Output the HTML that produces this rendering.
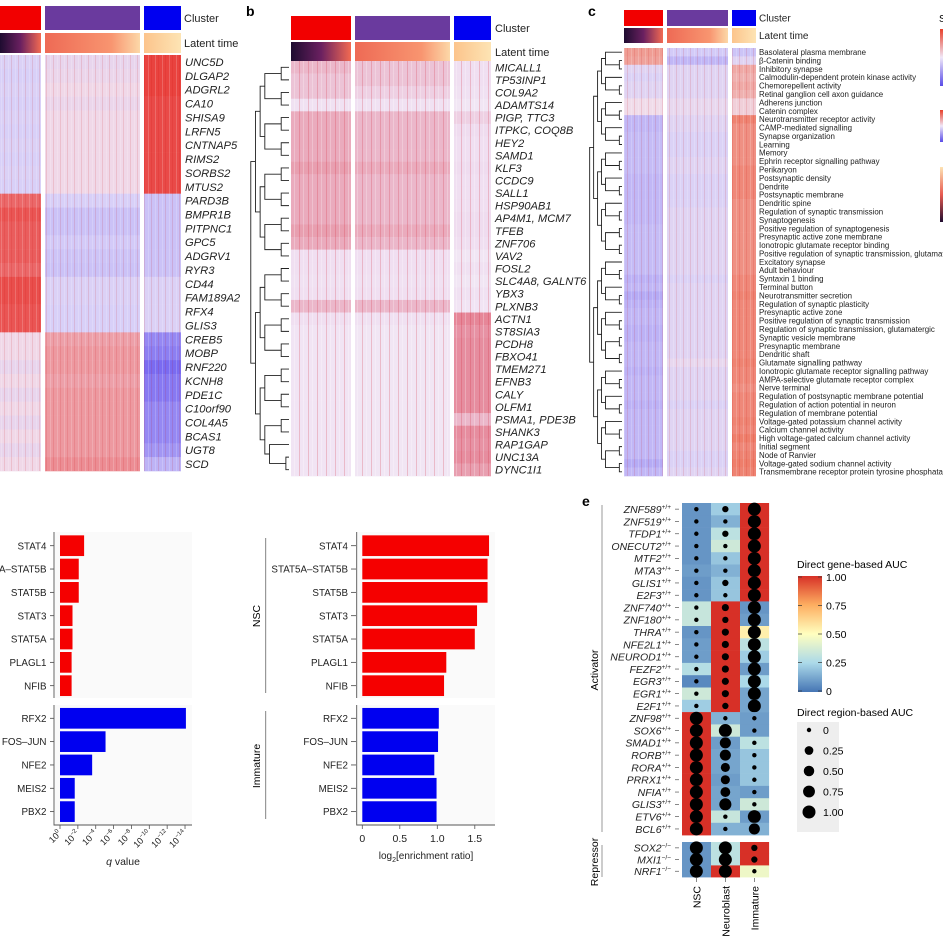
<!DOCTYPE html>
<html><head><meta charset="utf-8">
<style>
html,body{margin:0;padding:0;background:#fff;}
svg{display:block;font-family:"Liberation Sans",sans-serif;}
.it{font-style:italic;}
</style></head>
<body>
<svg id="fig" width="943" height="943" viewBox="0 0 943 943" xmlns="http://www.w3.org/2000/svg">
<defs>
<linearGradient id="lt1" x1="0" x2="1"><stop offset="0" stop-color="#1e0c30"/><stop offset="0.5" stop-color="#6a2060"/><stop offset="1" stop-color="#f26a52"/></linearGradient>
<linearGradient id="lt2" x1="0" x2="1"><stop offset="0" stop-color="#ee6a55"/><stop offset="0.7" stop-color="#f89570"/><stop offset="1" stop-color="#fcd8a8"/></linearGradient>
<linearGradient id="lt3" x1="0" x2="1"><stop offset="0" stop-color="#fcc48c"/><stop offset="1" stop-color="#fde4b4"/></linearGradient>
<linearGradient id="cbar" x1="0" y1="0" x2="0" y2="1"><stop offset="0" stop-color="#d73027"/><stop offset="0.25" stop-color="#fdae61"/><stop offset="0.5" stop-color="#ffffbf"/><stop offset="0.75" stop-color="#abd9e9"/><stop offset="1" stop-color="#4575b4"/></linearGradient>
<linearGradient id="rb" x1="0" y1="0" x2="0" y2="1"><stop offset="0" stop-color="#e8402a"/><stop offset="0.5" stop-color="#f0e8f8"/><stop offset="1" stop-color="#5a4ce8"/></linearGradient>
<linearGradient id="lg" x1="0" y1="0" x2="0" y2="1"><stop offset="0" stop-color="#fde4b4"/><stop offset="0.5" stop-color="#e85a50"/><stop offset="1" stop-color="#200c30"/></linearGradient>
<pattern id="stripes" width="7" height="4" patternUnits="userSpaceOnUse"><rect x="1" width="1" height="4" fill="#fff" opacity="0.18"/><rect x="4" width="1" height="4" fill="#c00" opacity="0.12"/></pattern>
<pattern id="stripesB" width="9" height="5" patternUnits="userSpaceOnUse"><rect x="2" width="1" height="5" fill="#d02030" opacity="0.22"/><rect x="6" width="1" height="5" fill="#fff" opacity="0.25"/></pattern>
</defs>
<g id="root"></g>
</svg>
<script>
// ---------- Panel a data ----------
const aGenes=["UNC5D","DLGAP2","ADGRL2","CA10","SHISA9","LRFN5","CNTNAP5","RIMS2","SORBS2","MTUS2","PARD3B","BMPR1B","PITPNC1","GPC5","ADGRV1","RYR3","CD44","FAM189A2","RFX4","GLIS3","CREB5","MOBP","RNF220","KCNH8","PDE1C","C10orf90","COL4A5","BCAS1","UGT8","SCD"];
const aRed=[0.42,0.4,0.42,0.4,0.42,0.4,0.42,0.4,0.42,0.4,0.85,0.9,0.88,0.88,0.88,0.85,0.92,0.92,0.9,0.9,0.55,0.55,0.5,0.55,0.5,0.55,0.5,0.55,0.5,0.55];
const aPur=[0.5,0.52,0.55,0.52,0.55,0.55,0.55,0.55,0.55,0.55,0.4,0.35,0.35,0.38,0.36,0.35,0.42,0.42,0.4,0.4,0.7,0.72,0.72,0.7,0.72,0.72,0.72,0.72,0.72,0.75];
const aBlu=[0.95,0.95,0.95,0.93,0.93,0.93,0.93,0.93,0.93,0.93,0.35,0.35,0.35,0.35,0.35,0.35,0.42,0.42,0.42,0.42,0.15,0.12,0.05,0.1,0.1,0.15,0.15,0.15,0.2,0.3];
// ---------- Panel b data ----------
const bGenes=["MICALL1","TP53INP1","COL9A2","ADAMTS14","PIGP, TTC3","ITPKC, COQ8B","HEY2","SAMD1","KLF3","CCDC9","SALL1","HSP90AB1","AP4M1, MCM7","TFEB","ZNF706","VAV2","FOSL2","SLC4A8, GALNT6","YBX3","PLXNB3","ACTN1","ST8SIA3","PCDH8","FBXO41","TMEM271","EFNB3","CALY","OLFM1","PSMA1, PDE3B","SHANK3","RAP1GAP","UNC13A","DYNC1I1"];
const bRed=[0.45,0.4,0.4,0.2,0.5,0.5,0.5,0.5,0.55,0.5,0.5,0.5,0.5,0.55,0.5,0.25,0.25,0.2,0.25,0.45,0.25,0.15,0.15,0.15,0.15,0.15,0.15,0.15,0.15,0.15,0.15,0.15,0.15];
const bPur=[0.4,0.4,0.35,0.2,0.45,0.45,0.45,0.45,0.5,0.45,0.45,0.45,0.45,0.5,0.45,0.25,0.25,0.2,0.25,0.45,0.2,0.12,0.12,0.12,0.12,0.12,0.12,0.12,0.12,0.12,0.12,0.12,0.12];
const bBlu=[0.25,0.25,0.2,0.12,0.35,0.3,0.25,0.25,0.3,0.25,0.25,0.25,0.3,0.3,0.25,0.12,0.2,0.12,0.2,0.15,0.65,0.6,0.62,0.62,0.62,0.62,0.62,0.62,0.45,0.62,0.6,0.62,0.55];
// ---------- Panel c data ----------
const cTerms=["Basolateral plasma membrane","β-Catenin binding","Inhibitory synapse","Calmodulin-dependent protein kinase activity","Chemorepellent activity","Retinal ganglion cell axon guidance","Adherens junction","Catenin complex","Neurotransmitter receptor activity","CAMP-mediated signalling","Synapse organization","Learning","Memory","Ephrin receptor signalling pathway","Perikaryon","Postsynaptic density","Dendrite","Postsynaptic membrane","Dendritic spine","Regulation of synaptic transmission","Synaptogenesis","Positive regulation of synaptogenesis","Presynaptic active zone membrane","Ionotropic glutamate receptor binding","Positive regulation of synaptic transmission, glutamatergic","Excitatory synapse","Adult behaviour","Syntaxin 1 binding","Terminal button","Neurotransmitter secretion","Regulation of synaptic plasticity","Presynaptic active zone","Positive regulation of synaptic transmission","Regulation of synaptic transmission, glutamatergic","Synaptic vesicle membrane","Presynaptic membrane","Dendritic shaft","Glutamate signalling pathway","Ionotropic glutamate receptor signalling pathway","AMPA-selective glutamate receptor complex","Nerve terminal","Regulation of postsynaptic membrane potential","Regulation of action potential in neuron","Regulation of membrane potential","Voltage-gated potassium channel activity","Calcium channel activity","High voltage-gated calcium channel activity","Initial segment","Node of Ranvier","Voltage-gated sodium channel activity","Transmembrane receptor protein tyrosine phosphatase activity"];
const cRed=[0.8,0.78,0.45,0.42,0.45,0.45,0.55,0.55,0.3,0.3,0.32,0.32,0.32,0.32,0.32,0.3,0.3,0.3,0.3,0.3,0.3,0.32,0.32,0.32,0.32,0.32,0.32,0.28,0.3,0.25,0.28,0.3,0.3,0.28,0.28,0.3,0.3,0.3,0.28,0.3,0.3,0.3,0.28,0.3,0.3,0.3,0.3,0.3,0.3,0.25,0.3];
const cPur=[0.38,0.3,0.45,0.45,0.45,0.45,0.5,0.5,0.45,0.45,0.42,0.42,0.42,0.45,0.45,0.42,0.42,0.42,0.42,0.45,0.45,0.45,0.45,0.45,0.45,0.45,0.45,0.42,0.45,0.45,0.45,0.45,0.45,0.45,0.45,0.45,0.45,0.5,0.45,0.45,0.45,0.45,0.42,0.45,0.45,0.45,0.45,0.45,0.42,0.42,0.45];
const cBlu=[0.35,0.45,0.75,0.72,0.75,0.72,0.6,0.6,0.9,0.85,0.85,0.85,0.85,0.85,0.88,0.88,0.88,0.88,0.85,0.85,0.85,0.85,0.85,0.85,0.85,0.85,0.85,0.88,0.88,0.9,0.88,0.88,0.88,0.88,0.88,0.88,0.88,0.9,0.88,0.88,0.85,0.88,0.88,0.88,0.9,0.88,0.92,0.88,0.9,0.92,0.9];
// ---------- Panel d data ----------
const dFactors=["STAT4","STAT5A–STAT5B","STAT5B","STAT3","STAT5A","PLAGL1","NFIB","RFX2","FOS–JUN","NFE2","MEIS2","PBX2"];
const dGroup=["NSC","NSC","NSC","NSC","NSC","NSC","NSC","Immature","Immature","Immature","Immature","Immature"];
const dNegLogQ=[2.7,2.1,2.1,1.4,1.4,1.3,1.3,14.1,5.1,3.6,1.65,1.65];
const dEnrich=[1.69,1.67,1.67,1.53,1.5,1.12,1.09,1.02,1.01,0.96,0.99,0.99];
const qTicks=[0,2,4,6,8,10,12,14];
const eTicks=[0,0.5,1.0,1.5];
// ---------- Panel e data ----------
const eCells=["NSC","Neuroblast","Immature"];
const eGenes=["ZNF589","ZNF519","TFDP1","ONECUT2","MTF2","MTA3","GLIS1","E2F3","ZNF740","ZNF180","THRA","NFE2L1","NEUROD1","FEZF2","EGR3","EGR1","E2F1","ZNF98","SOX6","SMAD1","RORB","RORA","PRRX1","NFIA","GLIS3","ETV6","BCL6","SOX2","MXI1","NRF1"];
const eType=["A","A","A","A","A","A","A","A","A","A","A","A","A","A","A","A","A","A","A","A","A","A","A","A","A","A","A","R","R","R"];
const eGeneAUC_NSC=[0.08,0.08,0.08,0.08,0.08,0.1,0.08,0.08,0.33,0.33,0.08,0.1,0.1,0.28,0.05,0.35,0.22,1,1,1,1,1,1,1,1,1,1,0.08,0.08,0.08];
const eGeneAUC_NB=[0.22,0.15,0.3,0.35,0.2,0.15,0.2,0.2,1,1,1,1,1,1,1,1,1,0.15,0.35,0.1,0.12,0.12,0.1,0.12,0.12,0.33,0.15,0.3,0.3,1];
const eGeneAUC_Im=[1,1,1,1,1,1,1,1,0.08,0.1,0.55,0.3,0.22,0.1,0.25,0.12,0.12,0.1,0.1,0.3,0.2,0.2,0.2,0.1,0.35,0.1,0.15,1,1,0.45];
const eRegAUC_NSC=[0,0,0,0,0,0,0,0,0,0,0,0,0,0,0,0,0,1,1,1,1,1,1,1,1,1,1,1,1,1];
const eRegAUC_NB=[0.05,0,0.05,0,0,0,0.05,0,0.1,0.05,0.1,0.1,0.1,0.1,0.1,0.1,0.05,0,1,0.6,0.6,0.3,0.3,0.4,0.8,0,0,1,1,1];
const eRegAUC_Im=[1,1,1,1,1,1,1,1,1,1,1,1,1,1,1,1,1,0,0,0,0,0,0,0,0,1,0.6,0.05,0.05,0];
const sizeLegend=[0,0.25,0.5,0.75,1.0];
const colorLegend=[1.0,0.75,0.5,0.25,0];

const NS="http://www.w3.org/2000/svg";
const root=document.getElementById('root');
function mk(tag,attrs,parent,text){const e=document.createElementNS(NS,tag);for(const k in attrs)e.setAttribute(k,attrs[k]);if(text!==undefined)e.textContent=text;(parent||root).appendChild(e);return e;}
function lerp(a,b,t){return a+(b-a)*t;}
function hex(c){return [parseInt(c.substr(1,2),16),parseInt(c.substr(3,2),16),parseInt(c.substr(5,2),16)];}
function scale(stops){return v=>{v=Math.max(0,Math.min(1,v));for(let i=0;i<stops.length-1;i++){if(v<=stops[i+1][0]){const t=(v-stops[i][0])/(stops[i+1][0]-stops[i][0]);const A=hex(stops[i][1]),B=hex(stops[i+1][1]);return `rgb(${Math.round(lerp(A[0],B[0],t))},${Math.round(lerp(A[1],B[1],t))},${Math.round(lerp(A[2],B[2],t))})`;}}return stops[stops.length-1][1];};}
const abcScale=scale([[0,"#6c5cf0"],[0.4,"#d8d0f8"],[0.55,"#f0d8e8"],[1,"#e8302a"]]);
const cScale=scale([[0,"#7a6cf0"],[0.4,"#d8d0f8"],[0.55,"#f0dcea"],[1,"#ee6a50"]]);
const bScale=scale([[0,"#f2ecf8"],[0.3,"#efdcef"],[1,"#dc3040"]]);
const eScale=scale([[0,"#4575b4"],[0.25,"#abd9e9"],[0.5,"#ffffbf"],[0.75,"#fdae61"],[1,"#d73027"]]);

function header(g,blocks,y1,h1,y2,h2,lx,fs){
  const cols=["#f20000","#6a3a9e","#0000f0"];const grads=["url(#lt1)","url(#lt2)","url(#lt3)"];
  blocks.forEach((b,i)=>{
    const c=mk('rect',{x:b[0],y:y1,width:b[1]-b[0],height:h1,fill:cols[i]},g);
    
    const l=mk('rect',{x:b[0],y:y2,width:b[1]-b[0],height:h2,fill:grads[i]},g);
    
  });
  const t1=mk('text',{x:lx,y:y1+h1/2+fs*0.35,'font-size':fs,fill:'#222'},g,'Cluster');
  
  const t2=mk('text',{x:lx,y:y2+h2/2+fs*0.35,'font-size':fs,fill:'#222'},g,'Latent time');
  
}
function heat(g,name,blocks,y0,y1,labels,vals,sc,lx,fs,italic,pat){
  const rh=(y1-y0)/labels.length;
  labels.forEach((lab,r)=>{
    blocks.forEach((b,i)=>{
      const c=mk('rect',{x:b[0],y:y0+r*rh,width:b[1]-b[0],height:rh+0.3,fill:sc(vals[i][r])},g);
      
    });
    const t=mk('text',{x:lx,y:y0+r*rh+rh/2+fs*0.36,'font-size':fs,fill:'#222',class:italic?'it':''},g,lab);
    
  });
  blocks.forEach(b=>{mk('rect',{x:b[0],y:y0,width:b[1]-b[0],height:y1-y0,fill:pat||'url(#stripes)'},g);});
}
function dendro(g,x0,x1,y0,y1,n){
  const rh=(y1-y0)/n;
  function build(a,b,depth){
    if(b-a===1){return [y0+a*rh+rh/2,x1];}
    const m=Math.floor((a+b)/2);
    const L=build(a,m,depth+1),R=build(m,b,depth+1);
    const x=x0+(x1-x0)*Math.min(0.9,depth*0.12+0.02)+ (b-a<=2?(x1-x0)*0.3:0);
    mk('path',{d:`M${L[1]},${L[0]}H${x}V${R[0]}H${R[1]}`,fill:'none',stroke:'#222','stroke-width':0.9},g);
    return [(L[0]+R[0])/2,x];
  }
  build(0,n,0);
}

// ----- Panel a -----
const ga=mk('g',{});
const aBlocks=[[0,41],[45,140],[144,181]];
header(ga,aBlocks,6,24,33,20,184,11);
heat(ga,'panel-a-heatmap',aBlocks,55,471,aGenes,[aRed,aPur,aBlu],abcScale,185,11.2,true);

// ----- Panel b -----
const gb=mk('g',{});
const bl=mk('text',{x:246,y:16,'font-size':14,'font-weight':'bold'},gb,'b');
const bBlocks=[[291,351],[355,450],[454,491]];
header(gb,bBlocks,16,24,42,20,495,11);
heat(gb,'panel-b-heatmap',bBlocks,61,476,bGenes,[bRed,bPur,bBlu],bScale,495,11.2,true,'url(#stripesB)');
dendro(gb,250,289,61,476,bGenes.length);

// ----- Panel c -----
const gc=mk('g',{});
const cl=mk('text',{x:588,y:16,'font-size':14,'font-weight':'bold'},gc,'c');
const cBlocks=[[624,663],[667,728],[732,756]];
header(gc,cBlocks,10,16,28,15,759,10);
heat(gc,'panel-c-heatmap',cBlocks,48,476,cTerms,[cRed,cPur,cBlu],cScale,759,7.9,false);
dendro(gc,589,622,48,476,cTerms.length);
mk('text',{x:939,y:22,'font-size':10},gc,'S');
mk('rect',{x:940,y:29,width:4,height:57,fill:'url(#rb)'},gc);
mk('rect',{x:940,y:110,width:4,height:32,fill:'url(#rb)'},gc);
mk('rect',{x:940,y:167,width:4,height:55,fill:'url(#lg)'},gc);

// ----- Panel d -----
const gd=mk('g',{});
const rowY=i=>(i<7?545.7+i*23.33:718.3+(i-7)*23.33);
const xq=v=>60+v*8.93;
const xe=v=>362.3+v*75;
const barH=20.7;
mk('rect',{x:55,y:532,width:137,height:166,fill:'#fafafa'},gd);
mk('rect',{x:55,y:705,width:137,height:120,fill:'#fafafa'},gd);
mk('rect',{x:357,y:532,width:138,height:166,fill:'#fafafa'},gd);
mk('rect',{x:357,y:705,width:138,height:120,fill:'#fafafa'},gd);
dFactors.forEach((f,i)=>{
  const y=rowY(i);const col=dGroup[i]==="NSC"?"#f50000":"#0000f0";
  const b1=mk('rect',{x:xq(0),y:y-barH/2,width:xq(dNegLogQ[i])-xq(0),height:barH,fill:col},gd);
  
  const t1=mk('text',{x:46.5,y:y+3.6,'font-size':9.8,'text-anchor':'end',fill:'#222'},gd,f);
  
  mk('line',{x1:50,x2:54,y1:y,y2:y,stroke:'#444','stroke-width':0.8},gd);
  const b2=mk('rect',{x:xe(0),y:y-barH/2,width:xe(dEnrich[i])-xe(0),height:barH,fill:col},gd);
  
  const t2=mk('text',{x:348,y:y+3.6,'font-size':9.8,'text-anchor':'end',fill:'#222'},gd,f);
  
  mk('line',{x1:351,x2:356,y1:y,y2:y,stroke:'#444','stroke-width':0.8},gd);
});
mk('path',{d:'M54,532V698M54,705V825H192',fill:'none',stroke:'#555','stroke-width':0.9},gd);
qTicks.forEach(t=>{
  const x=xq(t);mk('line',{x1:x,x2:x,y1:825,y2:829,stroke:'#555','stroke-width':0.8},gd);
  const tx=mk('text',{x:x+2,y:834,'font-size':9,'text-anchor':'end',transform:`rotate(-45 ${x+2} 834)`,fill:'#222'},gd);
  
  mk('tspan',{},tx,'10');mk('tspan',{dy:-4,'font-size':6},tx,t===0?'0':'−'+t);
});
const qt=mk('text',{x:123,y:865,'font-size':10.5,'text-anchor':'middle',fill:'#222'},gd);

mk('tspan',{'font-style':'italic'},qt,'q');mk('tspan',{},qt,' value');
mk('path',{d:'M356.7,532V698M356.7,705V825H495',fill:'none',stroke:'#555','stroke-width':0.9},gd);
eTicks.forEach(t=>{
  const x=xe(t);mk('line',{x1:x,x2:x,y1:825,y2:829,stroke:'#555','stroke-width':0.8},gd);
  const tx=mk('text',{x:x,y:842,'font-size':10.5,'text-anchor':'middle',fill:'#222'},gd,t===0?'0':t.toFixed(1));
  
});
const et=mk('text',{x:426,y:859,'font-size':10,'text-anchor':'middle',fill:'#222'},gd);

mk('tspan',{},et,'log');mk('tspan',{dy:3,'font-size':7},et,'2');mk('tspan',{dy:-3},et,'[enrichment ratio]');
mk('line',{x1:265.7,x2:265.7,y1:538,y2:693,stroke:'#777','stroke-width':0.9},gd);
mk('line',{x1:265.7,x2:265.7,y1:711,y2:819,stroke:'#777','stroke-width':0.9},gd);
const nl=mk('text',{x:260,y:616,'font-size':10.5,'text-anchor':'middle',transform:'rotate(-90 260 616)'},gd,'NSC');

const il=mk('text',{x:260,y:766,'font-size':10.5,'text-anchor':'middle',transform:'rotate(-90 260 766)'},gd,'Immature');


// ----- Panel e -----
const ge=mk('g',{});
const el0=mk('text',{x:582,y:506,'font-size':14,'font-weight':'bold'},ge,'e');

const colX=[682,711,740];const colW=28.7;
const eFill=[eGeneAUC_NSC,eGeneAUC_NB,eGeneAUC_Im];
const eDot=[eRegAUC_NSC,eRegAUC_NB,eRegAUC_Im];
const rad=v=>2.2+4.3*Math.sqrt(v);
const eRowY=i=>(i<27?503+i*12.3:842+(i-27)*11.7);
const eRowH=i=>(i<27?12.3:11.7);
eGenes.forEach((g,r)=>{
  const y=eRowY(r),h=eRowH(r);
  for(let c=0;c<3;c++){
    const cell=mk('rect',{x:colX[c],y:y,width:colW+0.4,height:h+0.3,fill:eScale(eFill[c][r])},ge);
    
  }
  for(let c=0;c<3;c++){
    const d=mk('circle',{cx:colX[c]+colW/2,cy:y+h/2,r:rad(eDot[c][r]),fill:'#000'},ge);
    
  }
  const sup=eType[r]==="A"?"+/+":"−/−";
  const t=mk('text',{x:671,y:y+h/2+3.8,'font-size':10.5,'text-anchor':'end',fill:'#222'},ge);
  
  mk('tspan',{'font-style':'italic'},t,g);mk('tspan',{dy:-4,'font-size':6.5},t,sup);
  mk('line',{x1:675,x2:679,y1:y+h/2,y2:y+h/2,stroke:'#555','stroke-width':0.7},ge);
});
mk('line',{x1:602,x2:602,y1:505,y2:832,stroke:'#999','stroke-width':1},ge);
mk('line',{x1:602,x2:602,y1:845,y2:877,stroke:'#999','stroke-width':1},ge);
const al=mk('text',{x:598,y:670,'font-size':10.5,'text-anchor':'middle',transform:'rotate(-90 598 670)'},ge,'Activator');

const rl=mk('text',{x:598,y:862,'font-size':10.5,'text-anchor':'middle',transform:'rotate(-90 598 862)'},ge,'Repressor');

eCells.forEach((c,i)=>{
  const x=colX[i]+colW/2;
  mk('line',{x1:x,x2:x,y1:878,y2:882,stroke:'#555','stroke-width':0.7},ge);
  const t=mk('text',{x:x+4,y:886,'font-size':10.5,'text-anchor':'end',transform:`rotate(-90 ${x+4} 886)`},ge,c);
  
});
const clt=mk('text',{x:797,y:568,'font-size':10.5},ge,'Direct gene-based AUC');

const cb=mk('rect',{x:798,y:576,width:24,height:116,fill:'url(#cbar)'},ge);

colorLegend.forEach(v=>{
  const y=576+(1-v)*114+1;
  mk('line',{x1:798,x2:802,y1:y,y2:y,stroke:'#333','stroke-width':0.7},ge);
  mk('line',{x1:818,x2:822,y1:y,y2:y,stroke:'#333','stroke-width':0.7},ge);
  const t=mk('text',{x:826,y:y+4,'font-size':10.5},ge,v===0?'0':v.toFixed(2));
  
});
const slt=mk('text',{x:797,y:716,'font-size':10.5},ge,'Direct region-based AUC');

mk('rect',{x:797,y:722,width:42,height:110,fill:'#eeeeee'},ge);
sizeLegend.forEach((v,i)=>{
  const y=730+i*20.5;
  const d=mk('circle',{cx:809,cy:y,r:rad(v),fill:'#000'},ge);
  
  const t=mk('text',{x:823,y:y+4,'font-size':10.5},ge,v===0?'0':v.toFixed(2));
  
});
</script>
</body></html>
